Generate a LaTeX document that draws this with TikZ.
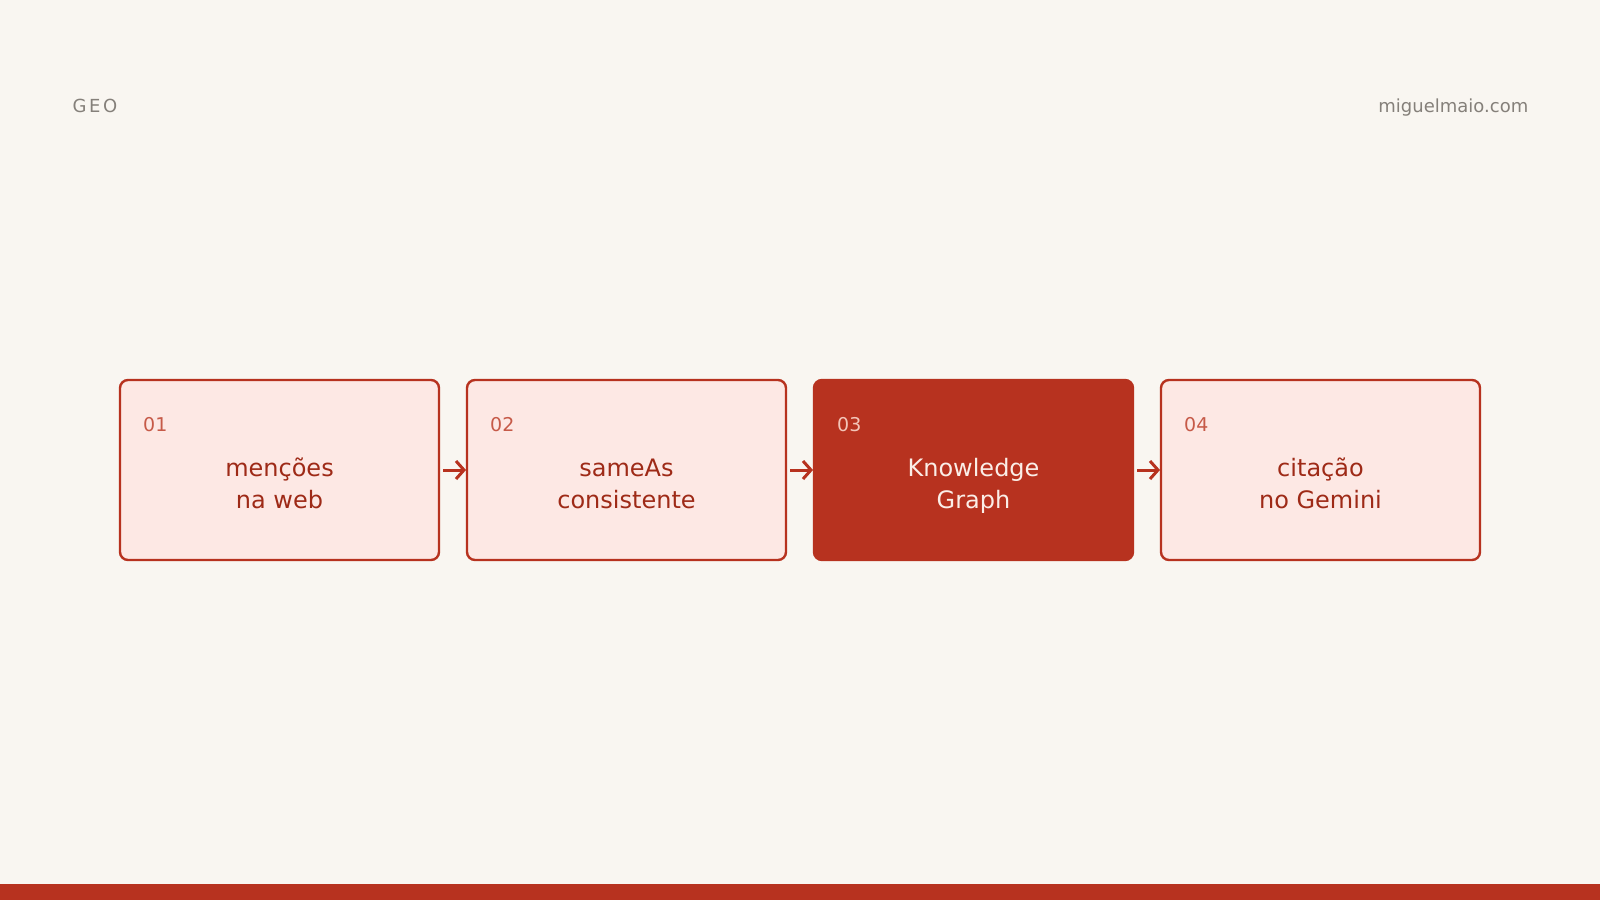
\documentclass[tikz,border=0pt]{standalone}
\usepackage{fontspec}
\setmainfont{DejaVu Sans}
\usetikzlibrary{arrows.meta}
\definecolor{bgc}{HTML}{F9F6F1}
\definecolor{accent}{HTML}{B7321F}
\definecolor{lightfill}{HTML}{FDE8E4}
\definecolor{darktext}{HTML}{9E2A17}
\definecolor{numc}{HTML}{C65A48}
\definecolor{invtext}{HTML}{FBEEE7}
\definecolor{invnum}{HTML}{F3C5B8}
\definecolor{graytext}{HTML}{85807A}
\tikzset{
  stepbox/.style={draw=accent, line width=2.4pt, fill=lightfill, rounded corners=8pt,
    minimum width=319pt, minimum height=180pt, inner sep=0pt, outer sep=0pt},
  hotbox/.style={stepbox, fill=accent},
  numlabel/.style={anchor=base west, inner sep=0pt, text=numc, font=\fontsize{19}{23}\selectfont},
  mainlabel/.style={align=center, inner sep=0pt, text=darktext, font=\fontsize{24}{32}\selectfont},
  flow/.style={draw=accent, line width=3pt, -{Straight Barb[length=8pt,width=18pt]},
    shorten <=4pt, shorten >=1pt},
  header/.style={inner sep=0pt, text=graytext, font=\fontsize{18}{22}\selectfont}
}
\begin{document}
\begin{tikzpicture}[x=1pt,y=-1pt]
\fill[bgc] (0,0) rectangle (1600,900);
\useasboundingbox (0,0) rectangle (1600,900);
\fill[accent] (0,884) rectangle (1600,900);

\node[header, anchor=base west] (geo) at (72.5,112) {\addfontfeatures{LetterSpace=14}GEO};
\node[header, anchor=base east] (site) at (1528.5,112) {miguelmaio.com};

\node[stepbox] (b1) at (279.5,470) {};
\node[stepbox] (b2) at (626.5,470) {};
\node[hotbox]  (b3) at (973.5,470) {};
\node[stepbox] (b4) at (1320.5,470) {};

\node[numlabel] (n1) at ([shift={(23,51)}]b1.north west) {01};
\node[numlabel] (n2) at ([shift={(23,51)}]b2.north west) {02};
\node[numlabel, text=invnum] (n3) at ([shift={(23,51)}]b3.north west) {03};
\node[numlabel] (n4) at ([shift={(23,51)}]b4.north west) {04};

\node[mainlabel] (t1) at ([shift={(0,16)}]b1.center) {\strut menções\\\strut na web};
\node[mainlabel] (t2) at ([shift={(0,16)}]b2.center) {\strut sameAs\\\strut consistente};
\node[mainlabel, text=invtext] (t3) at ([shift={(0,16)}]b3.center) {\strut Knowledge\\\strut Graph};
\node[mainlabel] (t4) at ([shift={(0,16)}]b4.center) {\strut citação\\\strut no Gemini};

\draw[flow] (b1) -- (b2);
\draw[flow] (b2) -- (b3);
\draw[flow] (b3) -- (b4);
\end{tikzpicture}
\end{document}
